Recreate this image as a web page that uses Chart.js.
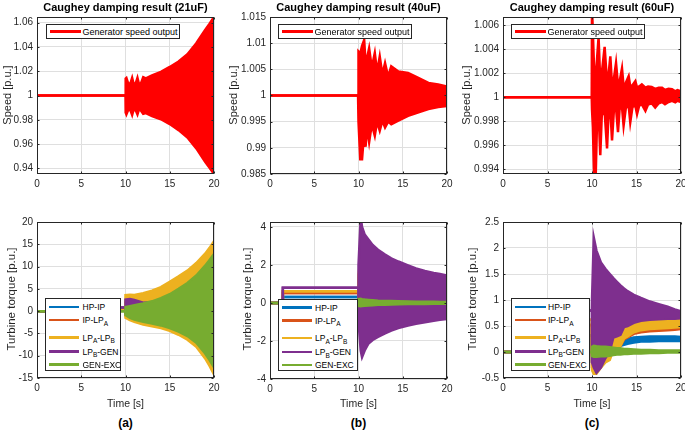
<!DOCTYPE html>
<html><head><meta charset="utf-8">
<script src="https://cdn.jsdelivr.net/npm/chart.js@4.4.0/dist/chart.umd.min.js"></script>
<style>
html,body{margin:0;padding:0;background:#fff;width:685px;height:431px;overflow:hidden;position:relative;font-family:"Liberation Sans",Arial,Helvetica,sans-serif;}
canvas{position:absolute;}
.t{position:absolute;white-space:nowrap;color:#000;line-height:1;}
.title{font-weight:bold;font-size:11px;transform:translate(-50%,-50%);}
.ylab{font-size:11px;color:#262626;transform:translate(-50%,-50%) rotate(-90deg);}
.ylab2{font-size:11.5px;color:#262626;transform:translate(-50%,-50%) rotate(-90deg);}
.xlab{font-size:10.5px;color:#262626;transform:translate(-50%,-50%);}
.cap{font-weight:bold;font-size:12px;transform:translate(-50%,-50%);}
.leg{position:absolute;background:#fff;border:1px solid #262626;box-sizing:border-box;}
.ll{position:absolute;height:2.5px;}
.lt{position:absolute;white-space:nowrap;color:#000;line-height:1;transform:translateY(-50%);}
.sb{font-size:6.5px;position:relative;top:2.5px;}
</style>
</head><body>
<script>
// ================= DATA =================
const xTicks = [0, 5, 10, 15, 20];
const xTickLabels = ['0', '5', '10', '15', '20'];

// ---- Speed, 21uF (envelope of the generator speed oscillation) ----
const speedTimeA  = [0, 10.0, 10.02, 10.1, 10.3, 10.45, 10.6, 10.75, 10.9, 11.05, 11.2, 11.35, 11.5, 11.65, 11.8, 12.0, 12.3, 13, 14, 15, 16, 17, 18, 19, 19.5, 20];
const speedUpperA = [1, 1, 1.0140, 1.0145, 1.0100, 1.0090, 1.0110, 1.0145, 1.0100, 1.0090, 1.0110, 1.0145, 1.0100, 1.0092, 1.0110, 1.0150, 1.0140, 1.0165, 1.0195, 1.0235, 1.0280, 1.0340, 1.0430, 1.0540, 1.0590, 1.0646];
const speedLowerA = [1, 1, 0.9860, 0.9845, 0.9880, 0.9890, 0.9870, 0.9840, 0.9880, 0.9890, 0.9870, 0.9845, 0.9880, 0.9888, 0.9870, 0.9850, 0.9855, 0.9830, 0.9805, 0.9765, 0.9715, 0.9655, 0.9565, 0.9455, 0.9405, 0.9354];
const speedTicksA = [0.94, 0.96, 0.98, 1, 1.02, 1.04, 1.06];
const speedTickLabelsA = ['0.94', '0.96', '0.98', '1', '1.02', '1.04', '1.06'];

// ---- Speed, 40uF ----
const speedTimeB  = [0, 9.95, 10.0, 10.2, 10.4, 10.64, 10.8, 10.95, 11.2, 11.5, 11.84, 12.1, 12.4, 12.7, 13.0, 13.35, 13.7, 14.5, 15.6, 16.7, 17.9, 19.0, 20];
const speedUpperB = [1, 1, 1.0084, 1.0080, 1.0095, 1.0106, 1.0062, 1.0070, 1.0090, 1.0053, 1.0081, 1.0045, 1.00745, 1.0040, 1.0062, 1.0036, 1.0056, 1.0046, 1.0043, 1.0034, 1.0024, 1.0021, 1.0017];
const speedLowerB = [1, 1, 0.9950, 0.9878, 0.9878, 0.9930, 0.9902, 0.9940, 0.9911, 0.9945, 0.9923, 0.9950, 0.9933, 0.9952, 0.9939, 0.9950, 0.9945, 0.9952, 0.9961, 0.99675, 0.9974, 0.9978, 0.9980];
const speedTicksB = [0.985, 0.99, 0.995, 1, 1.005, 1.01, 1.015];
const speedTickLabelsB = ['0.985', '0.99', '0.995', '1', '1.005', '1.01', '1.015'];

// ---- Speed, 60uF ----
const speedTimeC  = [0, 9.97, 10.0, 10.1, 10.25, 10.4, 10.55, 10.74, 10.93, 11.1, 11.42, 11.69, 11.85, 12.06, 12.25, 12.45, 12.7, 12.92, 13.1, 13.37, 13.55, 13.8, 14.12, 14.3, 14.55, 14.87, 15.06, 15.3, 15.6, 16.0, 16.3, 16.7, 17.1, 17.5, 17.87, 18.2, 18.6, 18.99, 19.36, 19.6, 20];
const speedUpperC = [1, 1, 1.0075, 1.0075, 1.0020, 1.0015, 1.0030, 1.0050, 1.0012, 1.0020, 1.0042, 1.0012, 1.0018, 1.0034, 1.0010, 1.0015, 1.00285, 1.0010, 1.0013, 1.0024, 1.0009, 1.0012, 1.00175, 1.0009, 1.0010, 1.00134, 1.0008, 1.0009, 1.00107, 1.0008, 1.0009, 1.00085, 1.0007, 1.0008, 1.0008, 1.0006, 1.0007, 1.00066, 1.0005, 1.0006, 1.0005];
const speedLowerC = [1, 1, 0.9990, 0.9975, 0.9930, 0.9930, 0.9975, 0.9988, 0.99518, 0.9985, 0.9988, 0.99573, 0.9985, 0.9990, 0.99641, 0.9988, 0.9991, 0.99709, 0.9990, 0.9992, 0.99764, 0.9991, 0.9993, 0.99791, 0.9992, 0.9993, 0.9986, 0.9993, 0.9994, 0.99887, 0.9994, 0.9995, 0.99915, 0.9995, 0.9996, 0.99942, 0.9996, 0.9997, 0.99957, 0.9997, 0.9996];
const speedTicksC = [0.994, 0.996, 0.998, 1, 1.002, 1.004, 1.006];
const speedTickLabelsC = ['0.994', '0.996', '0.998', '1', '1.002', '1.004', '1.006'];

// ---- Turbine torque series names ----
const torqueSeries = ['HP-IP', 'IP-LP_A', 'LP_A-LP_B', 'LP_B-GEN', 'GEN-EXC'];

// ---- Torque, 21uF (upper / lower envelopes) ----
const torqueTimeA = [0, 1.45, 1.45, 9.98, 10, 10.5, 11, 12, 13, 14, 15, 16, 17, 18, 19, 19.5, 20];
const hpipUpperA = [0, 0, 0.32, 0.32, 1.0, 1.1, 1.1, 1.3, 1.5, 1.8, 2.2, 2.7, 3.2, 3.9, 4.7, 5.2, 5.8];
const hpipLowerA = [0, 0, 0.32, 0.32, -0.4, -0.6, -0.7, -0.9, -1.1, -1.3, -1.5, -1.9, -2.3, -2.9, -3.8, -4.4, -5.0];
const iplpUpperA = [0, 0, 0.52, 0.52, 2.0, 2.2, 2.2, 2.5, 2.9, 3.5, 4.3, 5.2, 6.2, 7.5, 9.0, 10.0, 11.0];
const iplpLowerA = [0, 0, 0.52, 0.52, -1.0, -1.3, -1.6, -2.0, -2.3, -2.6, -3.0, -3.7, -4.5, -5.6, -7.4, -8.6, -10.0];
const lpabUpperA = [0, 0, 0.62, 0.62, 3.6, 3.7, 3.6, 4.0, 4.6, 5.4, 6.6, 7.8, 9.1, 10.8, 12.9, 14.2, 15.7];
const lpabLowerA = [0, 0, 0.62, 0.62, -1.5, -2.0, -2.4, -3.0, -3.4, -3.8, -4.4, -5.3, -6.4, -8.0, -10.6, -12.3, -14.2];
const lpbgUpperA = [0, 0, 0.80, 0.80, 2.6, 2.7, 2.5, 1.9, 2.0, 2.5, 3.2, 4.2, 5.3, 6.8, 8.7, 9.8, 11.0];
const lpbgLowerA = [0, 0, 0.80, 0.80, -0.5, -1.0, -1.5, -2.0, -2.4, -2.8, -3.3, -4.0, -4.9, -6.2, -8.3, -9.6, -11.0];
const genxUpperA = [0, 0, 0, 0, 0.9, 1.1, 1.3, 1.7, 2.2, 2.9, 3.8, 5.0, 6.3, 8.0, 10.2, 11.5, 12.8];
const genxLowerA = [0, 0, 0, 0, -0.9, -1.5, -1.9, -2.4, -2.8, -3.2, -3.8, -4.6, -5.6, -7.1, -9.5, -11.0, -12.6];
const torqueTicksA = [-15, -10, -5, 0, 5, 10, 15, 20];
const torqueTickLabelsA = ['-15', '-10', '-5', '0', '5', '10', '15', '20'];

// ---- Torque, 40uF ----
const torqueTimeB = [0, 1.45, 1.45, 9.98, 10, 10.25, 10.4, 10.7, 11.1, 11.6, 12.2, 13.0, 13.7, 14.5, 15.6, 16.5, 17.5, 18.5, 19.2, 20];
const hpipUpperB = [0, 0, 0.32, 0.32, 0.8, 1.4, 1.3, 1.2, 1.1, 1.0, 0.95, 0.85, 0.8, 0.75, 0.7, 0.65, 0.6, 0.57, 0.55, 0.52];
const hpipLowerB = [0, 0, 0.32, 0.32, -0.1, -0.7, -0.8, -0.7, -0.6, -0.5, -0.45, -0.4, -0.35, -0.3, -0.25, -0.22, -0.2, -0.18, -0.16, -0.15];
const iplpUpperB = [0, 0, 0.52, 0.52, 1.3, 2.2, 2.0, 1.85, 1.7, 1.6, 1.5, 1.35, 1.25, 1.15, 1.05, 1.0, 0.9, 0.85, 0.8, 0.75];
const iplpLowerB = [0, 0, 0.52, 0.52, -0.2, -1.1, -1.3, -1.1, -0.95, -0.85, -0.75, -0.65, -0.55, -0.5, -0.42, -0.38, -0.33, -0.3, -0.27, -0.25];
const lpabUpperB = [0, 0, 0.62, 0.62, 1.5, 2.5, 2.3, 2.1, 1.9, 1.8, 1.65, 1.5, 1.4, 1.3, 1.2, 1.1, 1.0, 0.95, 0.9, 0.85];
const lpabLowerB = [0, 0, 0.62, 0.62, -0.3, -1.3, -1.5, -1.3, -1.1, -1.0, -0.9, -0.8, -0.7, -0.6, -0.5, -0.45, -0.4, -0.35, -0.3, -0.3];
const lpbgUpperB = [0, 0, 0.80, 0.80, 2.0, 4.5, 4.0, 3.6, 3.35, 3.05, 2.8, 2.55, 2.35, 2.18, 1.98, 1.82, 1.68, 1.58, 1.52, 1.45];
const lpbgLowerB = [0, 0, 0.80, 0.80, -1.0, -2.5, -2.85, -2.5, -2.15, -1.95, -1.79, -1.6, -1.45, -1.32, -1.19, -1.1, -1.01, -0.93, -0.88, -0.84];
const genxUpperB = [0, 0, 0, 0, 0.2, 0.22, 0.2, 0.18, 0.16, 0.14, 0.12, 0.11, 0.1, 0.09, 0.08, 0.07, 0.06, 0.06, 0.05, 0.05];
const genxLowerB = [0, 0, 0, 0, -0.15, -0.17, -0.16, -0.15, -0.13, -0.12, -0.1, -0.09, -0.08, -0.07, -0.06, -0.05, -0.05, -0.04, -0.04, -0.04];
const torqueTicksB = [-4, -2, 0, 2, 4];
const torqueTickLabelsB = ['-4', '-2', '0', '2', '4'];

// ---- Torque, 60uF ----
const torqueTimeC = [0, 1.45, 1.45, 9.98, 10, 10.2, 10.5, 11, 11.5, 12, 12.4, 12.8, 13.2, 13.6, 14, 14.7, 15.5, 16.5, 17.5, 18.5, 19.3, 20];
const hpipUpperC = [0, 0, 0.32, 0.32, 0.05, 0.05, 0.0, 0.0, 0.05, 0.08, 0.1, 0.15, 0.2, 0.22, 0.25, 0.28, 0.29, 0.3, 0.3, 0.3, 0.3, 0.29];
const hpipLowerC = [0, 0, 0.32, 0.32, -0.2, -0.25, -0.25, -0.2, -0.12, -0.05, 0.0, 0.05, 0.12, 0.14, 0.16, 0.18, 0.2, 0.2, 0.21, 0.21, 0.21, 0.21];
const iplpUpperC = [0, 0, 0.52, 0.52, -0.05, -0.05, -0.1, -0.1, -0.05, 0.0, 0.25, 0.27, 0.29, 0.44, 0.46, 0.5, 0.53, 0.55, 0.56, 0.57, 0.58, 0.58];
const iplpLowerC = [0, 0, 0.52, 0.52, -0.3, -0.35, -0.37, -0.27, -0.18, -0.12, 0.05, 0.08, 0.12, 0.24, 0.28, 0.35, 0.38, 0.4, 0.41, 0.42, 0.43, 0.44];
const lpabUpperC = [0, 0, 0.62, 0.62, 0.0, 0.0, -0.05, -0.05, 0.0, 0.05, 0.3, 0.32, 0.34, 0.5, 0.52, 0.57, 0.6, 0.62, 0.63, 0.64, 0.65, 0.66];
const lpabLowerC = [0, 0, 0.62, 0.62, -0.35, -0.42, -0.42, -0.3, -0.2, -0.15, 0.05, 0.08, 0.12, 0.26, 0.3, 0.38, 0.42, 0.44, 0.45, 0.46, 0.47, 0.48];
const lpbgUpperC = [0, 0, 0.80, 0.80, 1.0, 2.2, 1.95, 1.72, 1.6, 1.5, 1.42, 1.35, 1.28, 1.22, 1.17, 1.1, 1.04, 0.97, 0.92, 0.87, 0.82, 0.78];
const lpbgLowerC = [0, 0, 0.80, 0.80, -0.2, -0.3, -0.4, -0.3, -0.12, 0.02, 0.28, 0.3, 0.33, 0.48, 0.5, 0.56, 0.6, 0.62, 0.63, 0.64, 0.64, 0.65];
const genxUpperC = [0, 0, 0, 0, 0.1, 0.12, 0.11, 0.1, 0.1, 0.09, 0.08, 0.07, 0.07, 0.06, 0.06, 0.05, 0.04, 0.04, 0.03, 0.03, 0.03, 0.03];
const genxLowerC = [0, 0, 0, 0, -0.08, -0.09, -0.09, -0.08, -0.08, -0.07, -0.06, -0.05, -0.05, -0.04, -0.04, -0.03, -0.03, -0.02, -0.02, -0.01, -0.01, -0.01];
const torqueTicksC = [-0.5, 0, 0.5, 1, 1.5, 2, 2.5];
const torqueTickLabelsC = ['-0.5', '0', '0.5', '1', '1.5', '2', '2.5'];

// ================= STYLE / BUILD =================
const FONT = '"Liberation Sans", Arial, Helvetica, sans-serif';
const GRID = '#dfdfdf';
const AX = '#262626';
const COL = {hp:'#0072BD', ip:'#D95319', lpa:'#EDB120', lpb:'#7E2F8E', gen:'#77AC30', speed:'#FF0000'};
const LW = 2.5;

function pts(t, v) { return t.map((x, i) => ({x: x, y: v[i]})); }
function band(t, up, lo, color) {
  return [
    {data: pts(t, up), borderColor: color, backgroundColor: color, fill: '+1', borderWidth: LW, pointRadius: 0, tension: 0},
    {data: pts(t, lo), borderColor: color, backgroundColor: color, fill: false, borderWidth: LW, pointRadius: 0, tension: 0}
  ];
}

const boxPlugin = {
  id: 'matlabBox',
  afterDraw(chart) {
    const {ctx, chartArea: a} = chart;
    ctx.save();
    ctx.strokeStyle = AX; ctx.lineWidth = 1;
    const L = Math.round(a.left) + 0.5, T = Math.round(a.top) + 0.5, R = Math.round(a.right) - 0.5, B = Math.round(a.bottom) - 0.5;
    ctx.strokeRect(L, T, R - L, B - T);
    ctx.beginPath();
    chart.scales.x.ticks.forEach(tk => {
      const px = Math.round(chart.scales.x.getPixelForValue(tk.value)) + 0.5;
      ctx.moveTo(px, B); ctx.lineTo(px, B - 2);
      ctx.moveTo(px, T); ctx.lineTo(px, T + 2);
    });
    chart.scales.y.ticks.forEach(tk => {
      const py = Math.round(chart.scales.y.getPixelForValue(tk.value)) + 0.5;
      ctx.moveTo(L, py); ctx.lineTo(L + 2, py);
      ctx.moveTo(R, py); ctx.lineTo(R - 2, py);
    });
    ctx.stroke();
    ctx.restore();
  }
};

function axesChart(box, datasets, y) {
  const padL = 40, padT = 8, padR = 10, padB = 22;
  const c = document.createElement('canvas');
  const w = box.R - box.L + padL + padR, h = box.B - box.T + padT + padB;
  c.width = w; c.height = h;
  c.style.left = (box.L - padL) + 'px'; c.style.top = (box.T - padT) + 'px';
  c.style.width = w + 'px'; c.style.height = h + 'px';
  document.body.appendChild(c);
  const tickFont = {size: 10, family: FONT};
  new Chart(c, {
    type: 'line',
    data: {datasets: datasets},
    options: {
      responsive: false, animation: false, devicePixelRatio: 1,
      layout: {padding: {left: 0, top: padT, right: padR, bottom: 0}},
      plugins: {legend: {display: false}, tooltip: {enabled: false}},
      scales: {
        x: {
          type: 'linear', min: 0, max: 20,
          afterBuildTicks: s => { s.ticks = xTicks.map(v => ({value: v})); },
          afterFit: s => { s.height = padB; },
          grid: {color: GRID, drawTicks: false}, border: {display: false},
          ticks: {padding: 4, font: tickFont, color: AX, autoSkip: false, maxRotation: 0, callback: (v, i) => xTickLabels[i]}
        },
        y: {
          type: 'linear', min: y.min, max: y.max,
          afterBuildTicks: s => { s.ticks = y.ticks.map(v => ({value: v})); },
          afterFit: s => { s.width = padL; },
          grid: {color: GRID, drawTicks: false}, border: {display: false},
          ticks: {padding: 4, font: tickFont, color: AX, autoSkip: false, callback: (v, i) => y.labels[i]}
        }
      }
    },
    plugins: [boxPlugin]
  });
}

function torqueSets(t, s) {
  // drawn last-to-first: HP-IP at the bottom, GEN-EXC on top
  return [].concat(
    band(t, s.genU, s.genL, COL.gen),
    band(t, s.lpbU, s.lpbL, COL.lpb),
    band(t, s.lpaU, s.lpaL, COL.lpa),
    band(t, s.ipU, s.ipL, COL.ip),
    band(t, s.hpU, s.hpL, COL.hp)
  );
}

function text(cls, x, y, html) {
  const d = document.createElement('div');
  d.className = 't ' + cls;
  d.style.left = x + 'px'; d.style.top = y + 'px';
  d.innerHTML = html;
  document.body.appendChild(d);
}
function fmt(name) { return name.replace(/_([A-Z])/g, '<span class="sb">$1</span>'); }
function legend(x, y, w, h, rows, fs, lx1, lx2, tx) {
  const d = document.createElement('div');
  d.className = 'leg';
  d.style.left = x + 'px'; d.style.top = y + 'px'; d.style.width = w + 'px'; d.style.height = h + 'px';
  rows.forEach(r => {
    const l = document.createElement('div');
    l.className = 'll';
    l.style.left = lx1 + 'px'; l.style.width = (lx2 - lx1) + 'px'; l.style.top = (r.cy - 1.25) + 'px'; l.style.background = r.color;
    d.appendChild(l);
    const s = document.createElement('div');
    s.className = 'lt';
    s.style.left = tx + 'px'; s.style.top = r.cy + 'px'; s.style.fontSize = fs + 'px';
    s.innerHTML = r.label;
    d.appendChild(s);
  });
  document.body.appendChild(d);
}

// ---- panel boxes (axes rectangles in page pixels) ----
const boxes = {
  sa: {L: 37, T: 15, R: 214, B: 174}, sb: {L: 270, T: 15, R: 447, B: 174}, sc: {L: 503, T: 15, R: 681, B: 174},
  ta: {L: 37, T: 220, R: 214, B: 378}, tb: {L: 270, T: 220, R: 447, B: 379}, tc: {L: 503, T: 220, R: 681, B: 378}
};

axesChart(boxes.sa, band(speedTimeA, speedUpperA, speedLowerA, COL.speed), {min: 0.9354, max: 1.0646, ticks: speedTicksA, labels: speedTickLabelsA});
axesChart(boxes.sb, band(speedTimeB, speedUpperB, speedLowerB, COL.speed), {min: 0.985, max: 1.015, ticks: speedTicksB, labels: speedTickLabelsB});
axesChart(boxes.sc, band(speedTimeC, speedUpperC, speedLowerC, COL.speed), {min: 0.99361, max: 1.00668, ticks: speedTicksC, labels: speedTickLabelsC});

axesChart(boxes.ta, torqueSets(torqueTimeA, {hpU: hpipUpperA, hpL: hpipLowerA, ipU: iplpUpperA, ipL: iplpLowerA, lpaU: lpabUpperA, lpaL: lpabLowerA, lpbU: lpbgUpperA, lpbL: lpbgLowerA, genU: genxUpperA, genL: genxLowerA}), {min: -15, max: 20, ticks: torqueTicksA, labels: torqueTickLabelsA});
axesChart(boxes.tb, torqueSets(torqueTimeB, {hpU: hpipUpperB, hpL: hpipLowerB, ipU: iplpUpperB, ipL: iplpLowerB, lpaU: lpabUpperB, lpaL: lpabLowerB, lpbU: lpbgUpperB, lpbL: lpbgLowerB, genU: genxUpperB, genL: genxLowerB}), {min: -4, max: 4.26, ticks: torqueTicksB, labels: torqueTickLabelsB});
axesChart(boxes.tc, torqueSets(torqueTimeC, {hpU: hpipUpperC, hpL: hpipLowerC, ipU: iplpUpperC, ipL: iplpLowerC, lpaU: lpabUpperC, lpaL: lpabLowerC, lpbU: lpbgUpperC, lpbL: lpbgLowerC, genU: genxUpperC, genL: genxLowerC}), {min: -0.5, max: 2.5, ticks: torqueTicksC, labels: torqueTickLabelsC});

// ---- texts ----
const caps = ['21uF', '40uF', '60uF'];
const cx = [125.5, 358.5, 592];
caps.forEach((c, i) => text('title', cx[i], 6.5, 'Caughey damping result (' + c + ')'));
[7, 233, 465.5].forEach(x => text('ylab', x, 94.5, 'Speed [p.u.]'));
[11.5, 248, 473].forEach(x => text('ylab2', x, 299, 'Turbine torque [p.u.]'));
cx.forEach(x => text('xlab', x, 402.5, 'Time [s]'));
['(a)', '(b)', '(c)'].forEach((c, i) => text('cap', cx[i], 423, c));

// ---- legends ----
[[45.5, 23.5], [277.5, 23.5], [510.5, 23.5]].forEach(p =>
  legend(p[0], p[1], 134.5, 15.5, [{cy: 7, color: COL.speed, label: 'Generator speed output'}], 9, 3, 34, 36));

const torqueColors = [COL.hp, COL.ip, COL.lpa, COL.lpb, COL.gen];
const rowY = [8, 21, 38.5, 52.5, 65.5];
const torqueRows = torqueSeries.map((n, i) => ({cy: rowY[i], color: torqueColors[i], label: fmt(n)}));
legend(45, 298, 76, 73, torqueRows, 8.5, 3.3, 33.5, 36.5);
legend(277.5, 298.5, 80, 72, torqueRows, 8.5, 3.3, 34, 36.5);
legend(510.5, 298, 79.5, 72.5, torqueRows, 8.5, 3.6, 34.5, 36.5);
</script>
</body></html>
